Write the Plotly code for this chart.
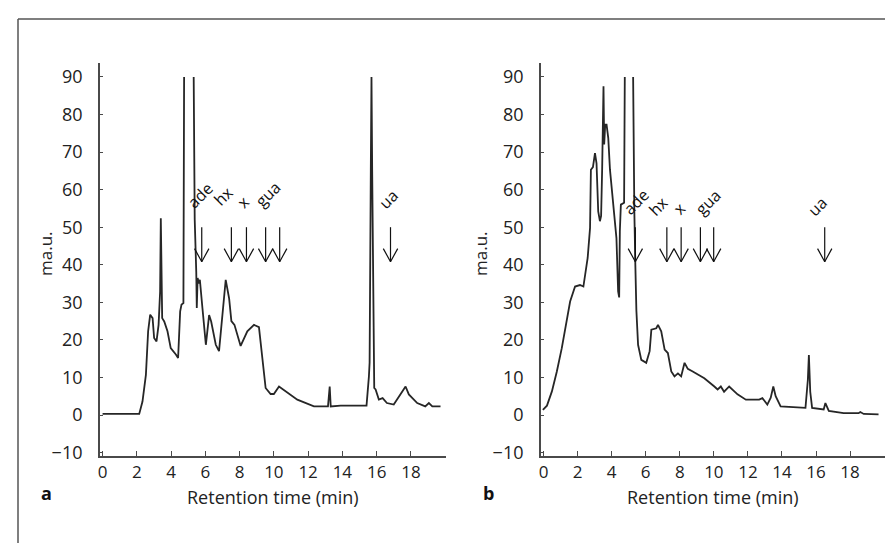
import plotly.graph_objects as go

W, H = 893, 543

# ---- data ----
# Panel a chromatogram (None = signal off scale)
time_a = [0, 2.14, 2.33, 2.53, 2.66, 2.78, 2.92, 3.01, 3.15, 3.27, 3.36, 3.40, 3.48, 3.60, 3.79,
          3.98, 4.28, 4.41, 4.53, 4.61, 4.72, 4.76, None, 5.32, 5.33, 5.38, 5.47, 5.50, 5.55,
          5.62, 5.68, 5.73, 5.83, 6.03, 6.22, 6.34, 6.61, 6.80, 7.00, 7.19, 7.39, 7.52, 7.70,
          8.06, 8.45, 8.84, 9.13, 9.33, 9.52, 9.81, 10.00, 10.30, 10.79, 11.37, 12.34, 13.16,
          13.26, 13.32, 13.90, 15.41, 15.55, 15.59, 15.66, 15.70, 15.74, 15.83, 15.86, 15.94,
          16.13, 16.35, 16.60, 17.00, 17.49, 17.69, 17.88, 18.37, 18.84, 19.05, 19.25, 19.73]
mau_a = [0.3, 0.3, 3.6, 10.7, 22.3, 26.7, 25.8, 20.5, 19.6, 24.0, 32.9, 52.4, 25.8, 24.9, 22.3,
         17.8, 16.1, 15.2, 27.6, 29.4, 29.8, 90, None, 90, 67.5, 52.0, 38.0, 28.5, 36.5,
         35.0, 36.0, 33.0, 28.5, 18.7, 26.6, 24.9, 18.7, 17.0, 26.7, 36.0, 31.0, 25.0, 24.0,
         18.4, 22.3, 24.0, 23.4, 15.2, 7.2, 5.6, 5.6, 7.6, 5.9, 4.1, 2.3, 2.3,
         7.6, 2.3, 2.5, 2.5, 10.3, 14.0, 65.0, 90, 65.0, 14.4, 7.2, 6.8,
         4.1, 4.5, 3.2, 2.8, 6.3, 7.6, 5.5, 3.2, 2.3, 3.2, 2.3, 2.3]

# Panel b chromatogram
time_b = [-0.04, 0.20, 0.49, 0.78, 1.07, 1.36, 1.56, 1.85, 2.14, 2.34, 2.47, 2.59, 2.73, 2.78,
          2.90, 3.02, 3.11, 3.21, 3.31, 3.38, 3.44, 3.52, 3.56, 3.62, 3.70, 3.80, 3.90, 4.09,
          4.28, 4.38, 4.44, 4.48, 4.54, 4.73, 4.77, None, 5.26, 5.29, 5.33, 5.39, 5.45, 5.55,
          5.74, 6.03, 6.23, 6.33, 6.62, 6.72, 6.91, 7.11, 7.30, 7.50, 7.69, 7.89, 8.08, 8.28,
          8.47, 8.76, 9.44, 10.03, 10.22, 10.41, 10.60, 10.90, 11.39, 11.88, 12.66, 12.85,
          13.14, 13.34, 13.49, 13.63, 13.92, 15.38, 15.52, 15.58, 15.62, 15.66, 15.77, 16.45,
          16.55, 16.75, 17.62, 18.50, 18.60, 18.80, 19.67]
mau_b = [1.4, 2.5, 6.3, 11.6, 17.8, 24.9, 30.2, 34.2, 34.6, 34.2, 38.2, 41.8, 49.8, 65.3,
         66.0, 69.7, 67.0, 54.2, 51.6, 53.0, 65.3, 87.5, 72.0, 77.3, 77.3, 73.7, 65.3, 56.9,
         47.1, 32.9, 31.3, 48.9, 56.0, 56.5, 90, None, 90, 67.0, 54.6, 40.0, 27.9, 18.7,
         14.7, 13.9, 17.0, 22.7, 23.1, 24.0, 22.3, 17.4, 16.5, 11.6, 10.3, 11.1, 10.3, 13.9,
         12.3, 11.6, 9.8, 7.6, 6.8, 7.6, 6.2, 7.6, 5.5, 4.1, 4.1, 4.5,
         2.8, 4.6, 7.6, 5.0, 2.3, 1.9, 9.4, 16.0, 7.6, 6.2, 1.9, 1.5,
         3.2, 1.1, 0.5, 0.5, 0.8, 0.3, 0.2]

# Peak markers (label, label position, arrow positions)
labels_a = ["ade", "hx", "x", "gua", "ua"]
label_x_a = [5.7, 7.05, 8.2, 9.65, 16.7]
label_y_a = [58.6, 58.3, 56.6, 58.9, 57.5]
arrows_a = [5.79, 7.52, 8.40, 9.52, 10.34, 16.81]

labels_b = ["ade", "hx", "x", "gua", "ua"]
label_x_b = [5.4, 6.75, 8.0, 9.65, 16.1]
label_y_b = [56.8, 55.6, 55.1, 56.8, 55.6]
arrows_b = [5.39, 7.24, 8.08, 9.21, 9.99, 16.51]

arrow_top, arrow_tip = 50.0, 40.8

x_ticks = list(range(0, 20, 2))
y_ticks = list(range(-10, 100, 10))
x_title = "Retention time (min)"
y_title = "ma.u."

# ---- figure ----
FONT = "Open Sans, Noto Sans, sans-serif"
LINE = "#262626"
AX = "#4a4a4a"


def arrow_xy(positions):
    xs, ys = [], []
    dx, dy = 0.42, 3.5
    for p in positions:
        xs += [p, p, None, p - dx, p, p + dx, None]
        ys += [arrow_top, arrow_tip, None, arrow_tip + dy, arrow_tip, arrow_tip + dy, None]
    return xs, ys


fig = go.Figure()
fig.add_trace(go.Scatter(x=time_a, y=mau_a, mode="lines", xaxis="x", yaxis="y",
                         line=dict(color=LINE, width=1.8), connectgaps=False,
                         showlegend=False, hoverinfo="skip"))
fig.add_trace(go.Scatter(x=time_b, y=mau_b, mode="lines", xaxis="x2", yaxis="y2",
                         line=dict(color=LINE, width=1.8), connectgaps=False,
                         showlegend=False, hoverinfo="skip"))
ax_, ay_ = arrow_xy(arrows_a)
fig.add_trace(go.Scatter(x=ax_, y=ay_, mode="lines", xaxis="x", yaxis="y",
                         line=dict(color="#111", width=1.2), showlegend=False, hoverinfo="skip"))
bx_, by_ = arrow_xy(arrows_b)
fig.add_trace(go.Scatter(x=bx_, y=by_, mode="lines", xaxis="x2", yaxis="y2",
                         line=dict(color="#111", width=1.2), showlegend=False, hoverinfo="skip"))

xr = [-0.15, 20.05]
yr = [-10.9, 93.7]
ydom = [1 - 448 / H, 1 - 55 / H]

common_x = dict(range=xr, showline=True, linecolor=AX, linewidth=1.8, ticks="inside",
                ticklen=5, tickwidth=1.4, tickcolor=AX, tickvals=x_ticks, showgrid=False,
                zeroline=False, automargin=False, ticklabelstandoff=0,
                tickfont=dict(family=FONT, size=17, color="#222"))
common_y = dict(range=yr, domain=ydom, showline=True, linecolor=AX, linewidth=1.8,
                ticks="inside", ticklen=3, tickwidth=1.4, tickcolor=AX, tickvals=y_ticks,
                showgrid=False, zeroline=False, automargin=False, ticklabelstandoff=12,
                tickfont=dict(family=FONT, size=18, color="#222"))

fig.update_layout(
    width=W, height=H, template="none",
    paper_bgcolor="white", plot_bgcolor="white",
    margin=dict(l=0, r=0, t=0, b=0),
    xaxis=dict(domain=[92 / W, 438 / W], anchor="y", **common_x),
    yaxis=dict(anchor="x", **common_y),
    xaxis2=dict(domain=[533 / W, 877 / W], anchor="y2", **common_x),
    yaxis2=dict(anchor="x2", **common_y),
    showlegend=False,
)

ann = []
for lab, lx, ly in zip(labels_a, label_x_a, label_y_a):
    ann.append(dict(x=lx, y=ly, xref="x", yref="y", text=lab, showarrow=False, textangle=-45,
                    xanchor="center", yanchor="middle", font=dict(family=FONT, size=16, color="#111")))
for lab, lx, ly in zip(labels_b, label_x_b, label_y_b):
    ann.append(dict(x=lx, y=ly, xref="x2", yref="y2", text=lab, showarrow=False, textangle=-45,
                    xanchor="center", yanchor="middle", font=dict(family=FONT, size=16, color="#111")))
for cx in (265, 705):
    ann.append(dict(x=cx / W, y=1 - 489 / H, xref="paper", yref="paper", text=x_title,
                    showarrow=False, xanchor="center", yanchor="middle",
                    font=dict(family=FONT, size=18, color="#222")))
for cx in (38, 473):
    ann.append(dict(x=cx / W, y=1 - 246 / H, xref="paper", yref="paper", text=y_title,
                    showarrow=False, textangle=-90, xanchor="center", yanchor="middle",
                    font=dict(family=FONT, size=17, color="#222")))
for lab, cx in (("a", 38), ("b", 481)):
    ann.append(dict(x=cx / W, y=1 - 485 / H, xref="paper", yref="paper", text="<b>%s</b>" % lab,
                    showarrow=False, xanchor="center", yanchor="middle",
                    font=dict(family=FONT, size=18, color="#111")))
fig.update_layout(annotations=ann)

fig.update_layout(shapes=[
    dict(type="line", xref="paper", yref="paper", x0=10 / W, x1=1, y0=1 - 11 / H, y1=1 - 11 / H,
         line=dict(color="#555", width=1.5)),
    dict(type="line", xref="paper", yref="paper", x0=10 / W, x1=10 / W, y0=0, y1=1 - 11 / H,
         line=dict(color="#555", width=1.5)),
])

fig.write_html("out.html")
